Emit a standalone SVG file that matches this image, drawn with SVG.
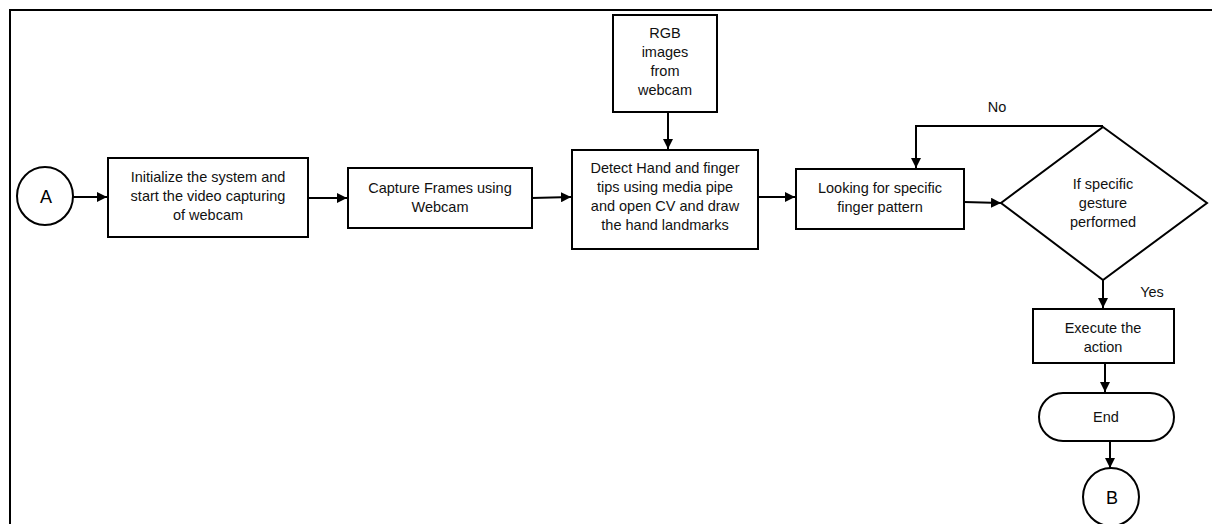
<svg xmlns="http://www.w3.org/2000/svg" width="1212" height="524" viewBox="0 0 1212 524">
<defs>
<marker id="ah" viewBox="0 0 10 10" refX="10" refY="5" markerWidth="10" markerHeight="10" markerUnits="userSpaceOnUse" orient="auto">
<path d="M0,0 L10,5 L0,10 z" fill="#000"/>
</marker>
<style>
.box{fill:#fff;stroke:#000;stroke-width:2}
.ln{fill:none;stroke:#000;stroke-width:2}
.t{font-family:"Liberation Sans",Arial,sans-serif;font-size:14.5px;fill:#111;text-anchor:middle}
.c{font-family:"Liberation Sans",Arial,sans-serif;font-size:18px;fill:#000;text-anchor:middle}
</style>
</defs>
<rect width="1212" height="524" fill="#fff"/>
<path class="ln" d="M10,524 V10 H1212" stroke-width="2.5"/>
<g id="connectors">
<path class="ln" d="M73,197 H107" marker-end="url(#ah)"/>
<path class="ln" d="M308,198 H347" marker-end="url(#ah)"/>
<path class="ln" d="M532,198 L571,197" marker-end="url(#ah)"/>
<path class="ln" d="M668,112 V149" marker-end="url(#ah)"/>
<path class="ln" d="M758,197 H795" marker-end="url(#ah)"/>
<path class="ln" d="M964,202 L1001,203" marker-end="url(#ah)"/>
<path class="ln" d="M1103,126 H916 V168" marker-end="url(#ah)"/>
<path class="ln" d="M1103,280 V308" marker-end="url(#ah)"/>
<path class="ln" d="M1105,363 V392" marker-end="url(#ah)"/>
<path class="ln" d="M1110,441 V468" marker-end="url(#ah)"/>
<text class="t" x="997" y="112">No</text>
<text class="t" x="1152" y="297">Yes</text>
</g>
<g id="nodeA">
<ellipse class="box" cx="45" cy="196" rx="28" ry="29"/>
<text class="c" x="46" y="203">A</text>
</g>
<g id="init">
<rect class="box" x="108" y="158" width="200" height="79"/>
<text class="t" x="208" y="182">Initialize the system and</text>
<text class="t" x="208" y="201">start the video capturing</text>
<text class="t" x="208" y="220">of webcam</text>
</g>
<g id="capture">
<rect class="box" x="348" y="168" width="184" height="60"/>
<text class="t" x="440" y="193">Capture Frames using</text>
<text class="t" x="440" y="212">Webcam</text>
</g>
<g id="rgb">
<rect class="box" x="613" y="15" width="104" height="97"/>
<text class="t" x="665" y="38">RGB</text>
<text class="t" x="665" y="57">images</text>
<text class="t" x="665" y="76">from</text>
<text class="t" x="665" y="95">webcam</text>
</g>
<g id="detect">
<rect class="box" x="572" y="150" width="186" height="99"/>
<text class="t" x="665" y="173">Detect Hand and finger</text>
<text class="t" x="665" y="192">tips using media pipe</text>
<text class="t" x="665" y="211">and open CV and draw</text>
<text class="t" x="665" y="230">the hand landmarks</text>
</g>
<g id="looking">
<rect class="box" x="796" y="169" width="168" height="60"/>
<text class="t" x="880" y="193">Looking for specific</text>
<text class="t" x="880" y="212">finger pattern</text>
</g>
<g id="decision">
<polygon class="box" points="1103,127 1207,203 1103,280 1001,203"/>
<text class="t" x="1103" y="189">If specific</text>
<text class="t" x="1103" y="208">gesture</text>
<text class="t" x="1103" y="227">performed</text>
</g>
<g id="execute">
<rect class="box" x="1033" y="309" width="141" height="54"/>
<text class="t" x="1103" y="333">Execute the</text>
<text class="t" x="1103" y="352">action</text>
</g>
<g id="end">
<rect class="box" x="1039" y="393" width="135" height="48" rx="24" ry="24"/>
<text class="t" x="1106" y="422">End</text>
</g>
<g id="nodeB">
<ellipse class="box" cx="1111" cy="497" rx="28" ry="29"/>
<text class="c" x="1112" y="504">B</text>
</g>
</svg>
